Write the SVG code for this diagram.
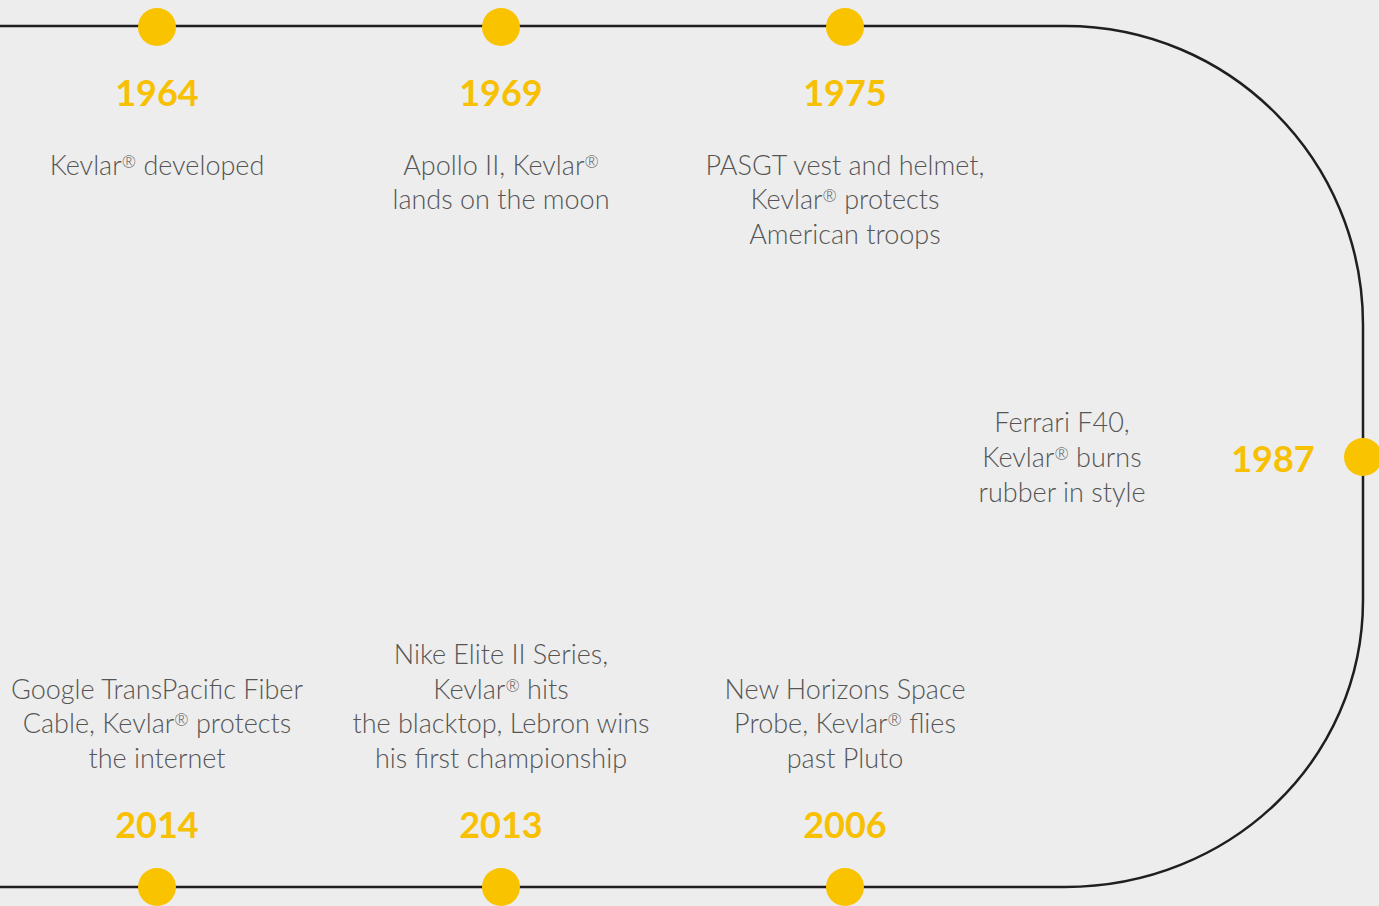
<svg xmlns="http://www.w3.org/2000/svg" width="1379" height="906" viewBox="0 0 1379 906">
<style>
.bg{fill:#ededed}
.line{fill:none;stroke:#1f1f1f;stroke-width:2.5}
.dot{fill:#f9c300}
.year{font-family:Lato,"Open Sans",sans-serif;font-weight:700;font-size:36px;fill:#f7c000;text-anchor:middle}
.desc{font-family:Lato,"Open Sans",sans-serif;font-weight:300;font-size:27px;fill:#555555;text-anchor:middle}
.r{font-size:17px;baseline-shift:40%}
</style>
<rect class="bg" x="0" y="0" width="1379" height="906"/>
<g id="connectors">
<path class="line" d="M0,26 H1065 C1230,26 1363,160 1363,325 V600 C1363,760 1230,887 1065,887 H0"/>
</g>
<g id="n1964">
<circle class="dot" cx="157" cy="27" r="19"/>
<text class="year" x="157" y="106">1964</text>
<text class="desc" x="157" y="175">Kevlar<tspan class="r">®</tspan> developed</text>
</g>
<g id="n1969">
<circle class="dot" cx="501" cy="27" r="19"/>
<text class="year" x="501" y="106">1969</text>
<text class="desc" x="501" y="175">Apollo II, Kevlar<tspan class="r">®</tspan></text>
<text class="desc" x="501" y="209">lands on the moon</text>
</g>
<g id="n1975">
<circle class="dot" cx="845" cy="27" r="19"/>
<text class="year" x="845" y="106">1975</text>
<text class="desc" x="845" y="175">PASGT vest and helmet,</text>
<text class="desc" x="845" y="209">Kevlar<tspan class="r">®</tspan> protects</text>
<text class="desc" x="845" y="244">American troops</text>
</g>
<g id="n1987">
<circle class="dot" cx="1363" cy="457" r="19"/>
<text class="year" x="1273" y="472">1987</text>
<text class="desc" x="1062" y="432">Ferrari F40,</text>
<text class="desc" x="1062" y="467">Kevlar<tspan class="r">®</tspan> burns</text>
<text class="desc" x="1062" y="502">rubber in style</text>
</g>
<g id="n2006">
<circle class="dot" cx="845" cy="887" r="19"/>
<text class="year" x="845" y="838">2006</text>
<text class="desc" x="845" y="699">New Horizons Space</text>
<text class="desc" x="845" y="733">Probe, Kevlar<tspan class="r">®</tspan> flies</text>
<text class="desc" x="845" y="768">past Pluto</text>
</g>
<g id="n2013">
<circle class="dot" cx="501" cy="887" r="19"/>
<text class="year" x="501" y="838">2013</text>
<text class="desc" x="501" y="664">Nike Elite II Series,</text>
<text class="desc" x="501" y="699">Kevlar<tspan class="r">®</tspan> hits</text>
<text class="desc" x="501" y="733">the blacktop, Lebron wins</text>
<text class="desc" x="501" y="768">his first championship</text>
</g>
<g id="n2014">
<circle class="dot" cx="157" cy="887" r="19"/>
<text class="year" x="157" y="838">2014</text>
<text class="desc" x="157" y="699">Google TransPacific Fiber</text>
<text class="desc" x="157" y="733">Cable, Kevlar<tspan class="r">®</tspan> protects</text>
<text class="desc" x="157" y="768">the internet</text>
</g>
</svg>
